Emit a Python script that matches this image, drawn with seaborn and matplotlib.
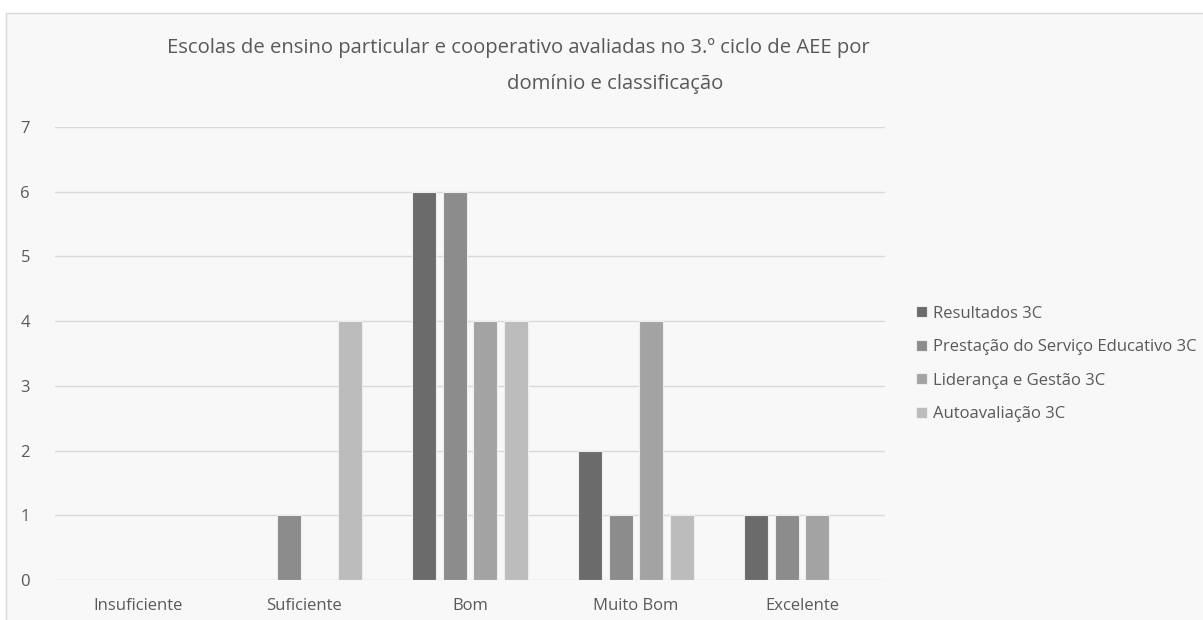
import matplotlib
matplotlib.use("Agg")
import matplotlib.pyplot as plt
from matplotlib.patches import Rectangle
import seaborn as sns
import pandas as pd

categories = ["Insuficiente", "Suficiente", "Bom", "Muito Bom", "Excelente"]
series_names = ["Resultados 3C", "Prestação do Serviço Educativo 3C",
                "Liderança e Gestão 3C", "Autoavaliação 3C"]
resultados = [0, 0, 6, 2, 1]
prestacao = [0, 1, 6, 1, 1]
lideranca = [0, 0, 4, 4, 1]
autoavaliacao = [0, 4, 4, 1, 0]
colors = ["#6B6B6B", "#8C8C8C", "#A3A3A3", "#BCBCBC"]

rows = []
for name, vals in zip(series_names, [resultados, prestacao, lideranca, autoavaliacao]):
    for c, v in zip(categories, vals):
        rows.append({"cat": c, "serie": name, "valor": v})
df = pd.DataFrame(rows)

sns.set_theme(style="white")
plt.rcParams['font.family'] = ['Open Sans', 'DejaVu Sans']

fig = plt.figure(figsize=(12.03, 6.2), dpi=100, facecolor="white")
fig.patches.append(Rectangle((6/1203, -0.1), 1.2, 1 - 13/620 + 0.1, transform=fig.transFigure,
                             facecolor="#F8F8F8", edgecolor="#D9D9D9", linewidth=1, zorder=-10))

ax = fig.add_axes([55/1203, 1 - 580/620, 830/1203, (580 - 127)/620])
ax.set_facecolor("none")
sns.barplot(data=df, x="cat", y="valor", hue="serie", order=categories,
            hue_order=series_names, palette=colors, width=0.735, gap=0.2,
            edgecolor="#EDEDED", linewidth=0.8, ax=ax, legend=True)

ax.set_ylim(0, 7)
ax.set_yticks(range(0, 8))
ax.set_xlim(-0.5, 4.5)
ax.grid(axis="y", color="#D9D9D9", linewidth=1)
ax.set_axisbelow(True)
for s in ax.spines.values():
    s.set_visible(False)
ax.set_xlabel("")
ax.set_ylabel("")
ax.tick_params(axis="both", length=0, labelsize=12, labelcolor="#595959")
ax.tick_params(axis="y", pad=18)
ax.tick_params(axis="x", pad=13)

handles, labels = ax.get_legend_handles_labels()
ax.legend(handles, labels, loc="center left", bbox_to_anchor=(901/1203, 1 - 364/620),
          bbox_transform=fig.transFigure, frameon=False, fontsize=12,
          labelcolor="#595959", handlelength=0.65, handleheight=0.65,
          handletextpad=0.35, labelspacing=1.05)

fig.text(518/1203, 1 - 48/620, "Escolas de ensino particular e cooperativo avaliadas no 3.º ciclo de AEE por",
         ha="center", va="center", fontsize=14.6, color="#595959")
fig.text(615/1203, 1 - 84/620, "domínio e classificação",
         ha="center", va="center", fontsize=14.6, color="#595959")

fig.savefig("out.png", dpi=100, facecolor="white")
